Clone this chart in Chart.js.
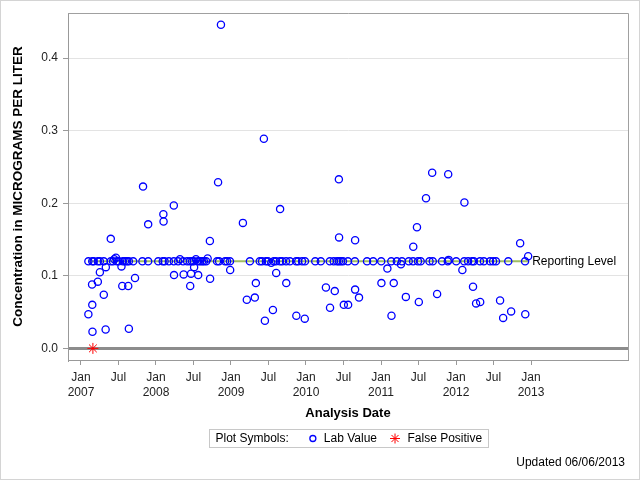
<!DOCTYPE html>
<html>
<head>
<meta charset="utf-8">
<script src="https://cdn.jsdelivr.net/npm/chart.js@4.4.0/dist/chart.umd.min.js"></script>
<style>
  html, body { margin: 0; padding: 0; background: #fff; }
  #wrap { width: 638px; height: 478px; border: 1px solid #d4d4d4; }
</style>
</head>
<body>
<div id="wrap"><canvas id="conc_Chart" width="638" height="478"></canvas></div>
<script>
const reportingLevel = 0.12;

// lab results (date, concentration)
const labDates = [
  '2007-02-06', '2007-02-06', '2007-02-24', '2007-02-25', '2007-02-25', '2007-02-26', '2007-03-04', '2007-03-24',
  '2007-03-24', '2007-04-03', '2007-04-03', '2007-04-22', '2007-04-22', '2007-05-01', '2007-05-02', '2007-05-26',
  '2007-05-26', '2007-06-06', '2007-06-12', '2007-06-20', '2007-06-25', '2007-07-04', '2007-07-17', '2007-07-21',
  '2007-07-24', '2007-08-03', '2007-08-13', '2007-08-19', '2007-08-22', '2007-08-22', '2007-09-12', '2007-09-21',
  '2007-10-27', '2007-10-30', '2007-11-24', '2007-11-24', '2008-01-12', '2008-02-03', '2008-02-06', '2008-02-07',
  '2008-02-12', '2008-03-04', '2008-03-28', '2008-03-28', '2008-03-29', '2008-04-18', '2008-04-27', '2008-05-12',
  '2008-05-15', '2008-06-01', '2008-06-15', '2008-06-16', '2008-06-20', '2008-06-25', '2008-07-04', '2008-07-05',
  '2008-07-14', '2008-07-24', '2008-07-25', '2008-08-03', '2008-08-13', '2008-08-22', '2008-09-02', '2008-09-09',
  '2008-09-20', '2008-09-21', '2008-10-25', '2008-10-30', '2008-11-04', '2008-11-13', '2008-12-03', '2008-12-13',
  '2008-12-27', '2008-12-28', '2009-02-28', '2009-03-19', '2009-04-03', '2009-04-27', '2009-05-02', '2009-05-21',
  '2009-06-01', '2009-06-10', '2009-06-15', '2009-06-20', '2009-06-30', '2009-07-16', '2009-07-24', '2009-07-28',
  '2009-08-08', '2009-08-09', '2009-08-27', '2009-08-28', '2009-09-07', '2009-09-26', '2009-09-27', '2009-10-15',
  '2009-11-14', '2009-11-15', '2009-11-24', '2009-12-13', '2009-12-26', '2009-12-27', '2010-02-15', '2010-03-14',
  '2010-04-08', '2010-04-27', '2010-04-28', '2010-05-16', '2010-05-21', '2010-06-01', '2010-06-10', '2010-06-10',
  '2010-06-11', '2010-06-20', '2010-06-30', '2010-07-04', '2010-07-24', '2010-07-25', '2010-08-27', '2010-08-28',
  '2010-08-28', '2010-09-16', '2010-10-25', '2010-11-24', '2011-01-02', '2011-01-03', '2011-02-01', '2011-02-20',
  '2011-02-21', '2011-03-04', '2011-03-19', '2011-04-08', '2011-04-13', '2011-05-02', '2011-05-16', '2011-06-06',
  '2011-06-07', '2011-06-25', '2011-06-30', '2011-07-04', '2011-07-13', '2011-08-08', '2011-08-25', '2011-09-07',
  '2011-09-10', '2011-10-01', '2011-10-25', '2011-11-22', '2011-11-24', '2011-11-26', '2012-01-02', '2012-02-01',
  '2012-02-10', '2012-02-11', '2012-02-29', '2012-03-19', '2012-03-24', '2012-03-28', '2012-04-08', '2012-04-27',
  '2012-04-28', '2012-05-16', '2012-06-15', '2012-06-30', '2012-07-14', '2012-08-03', '2012-08-18', '2012-09-12',
  '2012-09-26', '2012-11-09', '2012-12-03', '2012-12-04', '2012-12-18'
];
const labValues = [
  0.12, 0.047, 0.088, 0.12, 0.060, 0.023, 0.12, 0.12,
  0.092, 0.12, 0.105, 0.12, 0.074, 0.026, 0.112, 0.12,
  0.151, 0.12, 0.123, 0.125, 0.12, 0.12, 0.113, 0.086,
  0.12, 0.12, 0.12, 0.086, 0.12, 0.027, 0.12, 0.097,
  0.12, 0.223, 0.12, 0.171, 0.12, 0.12, 0.185, 0.175,
  0.12, 0.12, 0.12, 0.197, 0.101, 0.12, 0.123, 0.12,
  0.102, 0.12, 0.12, 0.086, 0.103, 0.12, 0.12, 0.112,
  0.123, 0.12, 0.101, 0.12, 0.12, 0.12, 0.12, 0.124,
  0.148, 0.096, 0.12, 0.229, 0.12, 0.446, 0.12, 0.12,
  0.12, 0.108, 0.173, 0.067, 0.12, 0.070, 0.090, 0.12,
  0.12, 0.289, 0.038, 0.12, 0.12, 0.118, 0.053, 0.12,
  0.12, 0.104, 0.12, 0.192, 0.12, 0.12, 0.090, 0.12,
  0.12, 0.045, 0.12, 0.12, 0.041, 0.12, 0.12, 0.12,
  0.084, 0.12, 0.056, 0.12, 0.079, 0.12, 0.12, 0.233,
  0.153, 0.12, 0.12, 0.060, 0.12, 0.060, 0.12, 0.149,
  0.081, 0.070, 0.12, 0.12, 0.12, 0.090, 0.110, 0.12,
  0.045, 0.090, 0.12, 0.116, 0.12, 0.071, 0.12, 0.12,
  0.140, 0.167, 0.12, 0.064, 0.12, 0.207, 0.12, 0.242,
  0.12, 0.075, 0.12, 0.12, 0.240, 0.122, 0.12, 0.108,
  0.12, 0.201, 0.12, 0.12, 0.085, 0.12, 0.062, 0.12,
  0.064, 0.12, 0.12, 0.12, 0.12, 0.066, 0.042, 0.12,
  0.051, 0.145, 0.12, 0.047, 0.127
];

const falsePositiveDates = ['2007-02-28'];
const falsePositiveValues = [0.0];

const xTickValues = [2007, 2007.5, 2008, 2008.5, 2009, 2009.5, 2010, 2010.5, 2011, 2011.5, 2012, 2012.5, 2013];
const xTickLabels = [['Jan', '2007'], 'Jul', ['Jan', '2008'], 'Jul', ['Jan', '2009'], 'Jul', ['Jan', '2010'], 'Jul',
  ['Jan', '2011'], 'Jul', ['Jan', '2012'], 'Jul', ['Jan', '2013']];
const yTickValues = [0, 0.1, 0.2, 0.3, 0.4];

const FONT = "'Liberation Sans', Arial, sans-serif";

// 'YYYY-MM-DD' -> decimal year, so a plain linear axis can be used
function decYear(s) {
  const [y, m, d] = s.split('-').map(Number);
  const start = Date.UTC(y, 0, 1);
  const end = Date.UTC(y + 1, 0, 1);
  return y + (Date.UTC(y, m - 1, d) - start) / (end - start);
}

const labPoints = labDates.map((d, i) => ({ x: decYear(d), y: labValues[i] }));
const fpPoints = falsePositiveDates.map((d, i) => ({ x: decYear(d), y: falsePositiveValues[i] }));
const firstDate = labDates[0];
const lastDate = labDates[labDates.length - 1];

const extras = {
  id: 'extras',
  beforeDatasetsDraw(chart) {
    const { ctx, chartArea: a } = chart;
    ctx.save();
    ctx.strokeStyle = '#a0a0a0';
    ctx.lineWidth = 1;
    ctx.beginPath();
    ctx.moveTo(Math.round(a.left), Math.round(a.top) + 0.5);
    ctx.lineTo(Math.round(a.right) + 0.5, Math.round(a.top) + 0.5);
    ctx.lineTo(Math.round(a.right) + 0.5, Math.round(a.bottom));
    ctx.stroke();
    ctx.restore();
  },
  afterDraw(chart) {
    const { ctx, chartArea: a, scales } = chart;
    ctx.save();
    ctx.font = '12px ' + FONT;
    ctx.textBaseline = 'middle';
    ctx.fillStyle = '#000';

    // label at the end of the reporting level line
    ctx.textAlign = 'left';
    ctx.fillText('Reporting Level',
      scales.x.getPixelForValue(decYear(lastDate)) + 4,
      scales.y.getPixelForValue(reportingLevel));

    // symbol legend
    const t1 = 'Plot Symbols:', t2 = 'Lab Value', t3 = 'False Positive';
    const w1 = ctx.measureText(t1).width, w2 = ctx.measureText(t2).width, w3 = ctx.measureText(t3).width;
    const boxW = 6 + w1 + 24 + 11 + w2 + 18 + 12.5 + w3 + 6;
    const boxL = Math.round((a.left + a.right) / 2 - boxW / 2) + 0.5;
    const boxT = 428.5, boxH = 18;
    const cy = boxT + boxH / 2;
    ctx.strokeStyle = '#c8c8c8';
    ctx.lineWidth = 1;
    ctx.strokeRect(boxL, boxT, Math.round(boxW), boxH);

    let x = boxL + 6;
    ctx.fillText(t1, x, cy);
    x += w1 + 24;
    ctx.strokeStyle = '#0000ff';
    ctx.lineWidth = 1.3;
    ctx.beginPath();
    ctx.arc(x, cy, 3, 0, Math.PI * 2);
    ctx.stroke();
    x += 11;
    ctx.fillText(t2, x, cy);
    x += w2 + 18;
    ctx.strokeStyle = '#ff0000';
    ctx.lineWidth = 1;
    ctx.beginPath();
    for (let k = 0; k < 4; k++) {
      const ang = k * Math.PI / 4;
      ctx.moveTo(x - 5 * Math.cos(ang), cy - 5 * Math.sin(ang));
      ctx.lineTo(x + 5 * Math.cos(ang), cy + 5 * Math.sin(ang));
    }
    ctx.stroke();
    x += 12.5;
    ctx.fillText(t3, x, cy);

    // footnote
    ctx.textAlign = 'right';
    ctx.fillText('Updated 06/06/2013', 624, 462);
    ctx.restore();
  }
};

const config_scatter = {
  type: 'scatter',
  data: {
    datasets: [{
      label: 'Lab Value',
      data: labPoints,
      pointStyle: 'circle',
      pointRadius: 3.6,
      pointHoverRadius: 3.6,
      borderColor: '#0000ff',
      backgroundColor: 'rgba(0,0,0,0)',
      borderWidth: 1.3
    }, {
      label: 'False Positive',
      data: fpPoints,
      pointStyle: 'star',
      pointRadius: 5.5,
      borderColor: '#ff0000',
      backgroundColor: '#ff0000',
      borderWidth: 1
    }, {
      label: 'Reporting Level',
      data: [{ x: decYear(firstDate), y: reportingLevel }, { x: decYear(lastDate), y: reportingLevel }],
      showLine: true,
      pointRadius: 0,
      borderColor: '#9fbd62',
      borderWidth: 2
    }]
  },
  options: {
    responsive: false,
    animation: false,
    devicePixelRatio: 1,
    layout: { padding: { left: 0, top: 10, right: 11, bottom: 58 } },
    plugins: {
      legend: { display: false },
      tooltip: { enabled: false }
    },
    scales: {
      x: {
        type: 'linear',
        min: 2006.827,
        max: 2014.293,
        afterBuildTicks: (scale) => { scale.ticks = xTickValues.map(v => ({ value: v })); },
        afterFit: (scale) => { scale.height = 61; },
        ticks: {
          autoSkip: false,
          maxRotation: 0,
          padding: 5,
          color: '#222',
          font: { family: FONT, size: 12, lineHeight: 1.25 },
          callback: (value, index) => xTickLabels[index]
        },
        grid: { drawOnChartArea: false, drawTicks: true, tickLength: 5, tickColor: '#999', tickWidth: 1 },
        border: { display: true, color: '#999' },
        title: {
          display: true,
          text: 'Analysis Date',
          color: '#000',
          font: { family: FONT, size: 13, weight: 'bold' },
          padding: { top: 4, bottom: 0 }
        }
      },
      y: {
        type: 'linear',
        min: -0.016,
        max: 0.462,
        afterBuildTicks: (scale) => { scale.ticks = yTickValues.map(v => ({ value: v })); },
        afterFit: (scale) => { scale.width = 67; },
        ticks: {
          padding: 5,
          color: '#222',
          font: { family: FONT, size: 12 },
          callback: (value) => value.toFixed(1)
        },
        grid: {
          color: (ctx) => (ctx.tick && ctx.tick.value === 0 ? '#8c8c8c' : '#e3e3e3'),
          lineWidth: (ctx) => (ctx.tick && ctx.tick.value === 0 ? 3 : 1),
          tickLength: 5,
          tickColor: '#999',
          tickWidth: 1
        },
        border: { display: true, color: '#999' },
        title: {
          display: true,
          text: 'Concentration in MICROGRAMS PER LITER',
          color: '#000',
          font: { family: FONT, size: 13.5, weight: 'bold' },
          padding: { top: 9, bottom: 0 }
        }
      }
    }
  },
  plugins: [extras]
};

let concChart = new Chart(document.getElementById('conc_Chart'), config_scatter);
</script>
</body>
</html>
